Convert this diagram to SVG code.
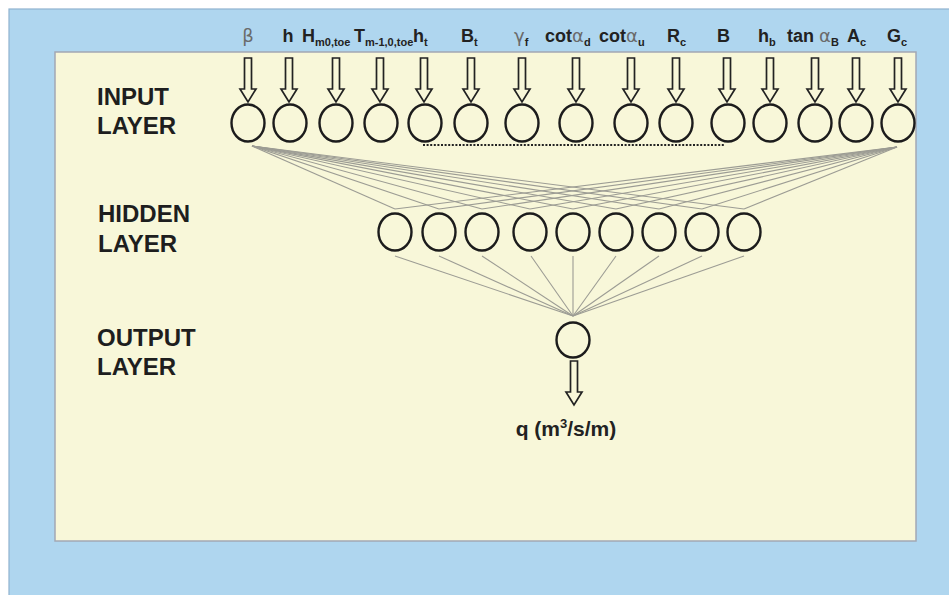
<svg xmlns="http://www.w3.org/2000/svg" xmlns:xlink="http://www.w3.org/1999/xlink" width="949" height="595" viewBox="0 0 949 595">
<style>
.lbl{font-family:"Liberation Sans",Arial,sans-serif;font-weight:bold;font-size:18px;fill:#222}
.sub{font-size:11px}
.sym{font-family:"DejaVu Sans","Liberation Sans",sans-serif;font-weight:normal;fill:#6a6a6a}
.layer{font-family:"Liberation Sans",Arial,sans-serif;font-weight:bold;font-size:24px;fill:#1e1e1e}
.node{fill:none;stroke:#1c1c1c;stroke-width:2.4}
.arrow{fill:none;stroke:#222;stroke-width:1.7;stroke-linejoin:miter}
.conn line{stroke:#9c9c94;stroke-width:1.1}
</style>
<defs>
<path id="arr" class="arrow" d="M-3.5,0 H3.5 V31 H8 L0,44 L-8,31 H-3.5 Z"/>
</defs>
<rect x="0" y="0" width="949" height="595" fill="#ffffff"/>
<rect x="9" y="9" width="945" height="590" fill="#afd6ef" stroke="#8fb2cf" stroke-width="1.2"/>
<rect x="55" y="52" width="861" height="489" fill="#f8f7d9" stroke="#a3a8b4" stroke-width="1.5"/>

<g id="labels">
<text class="lbl sym" x="248" y="42" text-anchor="middle">β</text>
<text class="lbl" x="288" y="42" text-anchor="middle">h</text>
<text class="lbl" x="302" y="42">H<tspan class="sub" dy="4">m0,toe</tspan></text>
<text class="lbl" x="354" y="42">T<tspan class="sub" dy="4">m-1,0,toe</tspan></text>
<text class="lbl" x="413" y="42">h<tspan class="sub" dy="4">t</tspan></text>
<text class="lbl" x="461" y="42">B<tspan class="sub" dy="4">t</tspan></text>
<text class="lbl" x="514" y="42"><tspan class="sym">γ</tspan><tspan class="sub" dy="4">f</tspan></text>
<text class="lbl" x="545" y="42">cot<tspan class="sym">α</tspan><tspan class="sub" dy="4">d</tspan></text>
<text class="lbl" x="599" y="42">cot<tspan class="sym">α</tspan><tspan class="sub" dy="4">u</tspan></text>
<text class="lbl" x="667" y="42">R<tspan class="sub" dy="4">c</tspan></text>
<text class="lbl" x="717" y="42">B</text>
<text class="lbl" x="758" y="42">h<tspan class="sub" dy="4">b</tspan></text>
<text class="lbl" x="787" y="42">tan <tspan class="sym">α</tspan><tspan class="sub" dy="4">B</tspan></text>
<text class="lbl" x="847" y="42">A<tspan class="sub" dy="4">c</tspan></text>
<text class="lbl" x="887" y="42">G<tspan class="sub" dy="4">c</tspan></text>
</g>

<g id="layer-labels">
<text class="layer" x="97" y="105">INPUT</text>
<text class="layer" x="97" y="134">LAYER</text>
<text class="layer" x="98" y="222">HIDDEN</text>
<text class="layer" x="98" y="252">LAYER</text>
<text class="layer" x="97" y="346">OUTPUT</text>
<text class="layer" x="97" y="375">LAYER</text>
</g>

<g id="connectors" class="conn">
<g id="input-arrows">
<use xlink:href="#arr" x="248" y="58"/>
<use xlink:href="#arr" x="289" y="58"/>
<use xlink:href="#arr" x="336" y="58"/>
<use xlink:href="#arr" x="380" y="58"/>
<use xlink:href="#arr" x="424" y="58"/>
<use xlink:href="#arr" x="471" y="58"/>
<use xlink:href="#arr" x="522" y="58"/>
<use xlink:href="#arr" x="576" y="58"/>
<use xlink:href="#arr" x="631" y="58"/>
<use xlink:href="#arr" x="676" y="58"/>
<use xlink:href="#arr" x="727" y="58"/>
<use xlink:href="#arr" x="770" y="58"/>
<use xlink:href="#arr" x="815" y="58"/>
<use xlink:href="#arr" x="856" y="58"/>
<use xlink:href="#arr" x="898" y="58"/>
</g>
<line x1="423" y1="145" x2="725" y2="145" style="stroke:#222;stroke-width:2;stroke-dasharray:2,1.6"/>
<g id="fan-left">
<line x1="252" y1="146" x2="395" y2="209"/>
<line x1="252" y1="146" x2="439" y2="209"/>
<line x1="252" y1="146" x2="482" y2="209"/>
<line x1="252" y1="146" x2="530" y2="209"/>
<line x1="252" y1="146" x2="573" y2="209"/>
<line x1="252" y1="146" x2="616" y2="209"/>
<line x1="252" y1="146" x2="659" y2="209"/>
<line x1="252" y1="146" x2="702" y2="209"/>
<line x1="252" y1="146" x2="744" y2="209"/>
</g>
<g id="fan-right">
<line x1="897" y1="147" x2="395" y2="209"/>
<line x1="897" y1="147" x2="439" y2="209"/>
<line x1="897" y1="147" x2="482" y2="209"/>
<line x1="897" y1="147" x2="530" y2="209"/>
<line x1="897" y1="147" x2="573" y2="209"/>
<line x1="897" y1="147" x2="616" y2="209"/>
<line x1="897" y1="147" x2="659" y2="209"/>
<line x1="897" y1="147" x2="702" y2="209"/>
<line x1="897" y1="147" x2="744" y2="209"/>
</g>
<g id="hidden-output">
<line x1="395" y1="256" x2="573" y2="316"/>
<line x1="439" y1="256" x2="573" y2="316"/>
<line x1="482" y1="256" x2="573" y2="316"/>
<line x1="531" y1="256" x2="573" y2="316"/>
<line x1="573" y1="256" x2="573" y2="316"/>
<line x1="616" y1="256" x2="573" y2="316"/>
<line x1="659" y1="256" x2="573" y2="316"/>
<line x1="702" y1="256" x2="573" y2="316"/>
<line x1="744" y1="256" x2="573" y2="316"/>
</g>
<use xlink:href="#arr" x="574" y="361"/>
</g>

<g id="input-nodes">
<ellipse id="in1" class="node" cx="248" cy="123" rx="16.5" ry="18.5"/>
<ellipse id="in2" class="node" cx="290" cy="123" rx="16.5" ry="18.5"/>
<ellipse id="in3" class="node" cx="336" cy="123" rx="16.5" ry="18.5"/>
<ellipse id="in4" class="node" cx="381" cy="123" rx="16.5" ry="18.5"/>
<ellipse id="in5" class="node" cx="425" cy="123" rx="16.5" ry="18.5"/>
<ellipse id="in6" class="node" cx="471" cy="123" rx="16.5" ry="18.5"/>
<ellipse id="in7" class="node" cx="522" cy="123" rx="16.5" ry="18.5"/>
<ellipse id="in8" class="node" cx="576" cy="123" rx="16.5" ry="18.5"/>
<ellipse id="in9" class="node" cx="631" cy="123" rx="16.5" ry="18.5"/>
<ellipse id="in10" class="node" cx="676" cy="123" rx="16.5" ry="18.5"/>
<ellipse id="in11" class="node" cx="728" cy="123" rx="16.5" ry="18.5"/>
<ellipse id="in12" class="node" cx="770" cy="123" rx="16.5" ry="18.5"/>
<ellipse id="in13" class="node" cx="815" cy="123" rx="16.5" ry="18.5"/>
<ellipse id="in14" class="node" cx="856" cy="123" rx="16.5" ry="18.5"/>
<ellipse id="in15" class="node" cx="898" cy="123" rx="16.5" ry="18.5"/>
</g>

<g id="hidden-nodes">
<ellipse id="h1" class="node" cx="395" cy="232" rx="16.5" ry="18.5"/>
<ellipse id="h2" class="node" cx="439" cy="232" rx="16.5" ry="18.5"/>
<ellipse id="h3" class="node" cx="482" cy="232" rx="16.5" ry="18.5"/>
<ellipse id="h4" class="node" cx="530" cy="232" rx="16.5" ry="18.5"/>
<ellipse id="h5" class="node" cx="573" cy="232" rx="16.5" ry="18.5"/>
<ellipse id="h6" class="node" cx="616" cy="232" rx="16.5" ry="18.5"/>
<ellipse id="h7" class="node" cx="659" cy="232" rx="16.5" ry="18.5"/>
<ellipse id="h8" class="node" cx="702" cy="232" rx="16.5" ry="18.5"/>
<ellipse id="h9" class="node" cx="744" cy="232" rx="16.5" ry="18.5"/>
</g>

<g id="output-node">
<ellipse id="out" class="node" cx="573" cy="340" rx="16.5" ry="17.5"/>
<text class="lbl" x="566" y="436" text-anchor="middle" style="font-size:21px">q (m<tspan style="font-size:13px" dy="-8">3</tspan><tspan dy="8">/s/m)</tspan></text>
</g>
</svg>
